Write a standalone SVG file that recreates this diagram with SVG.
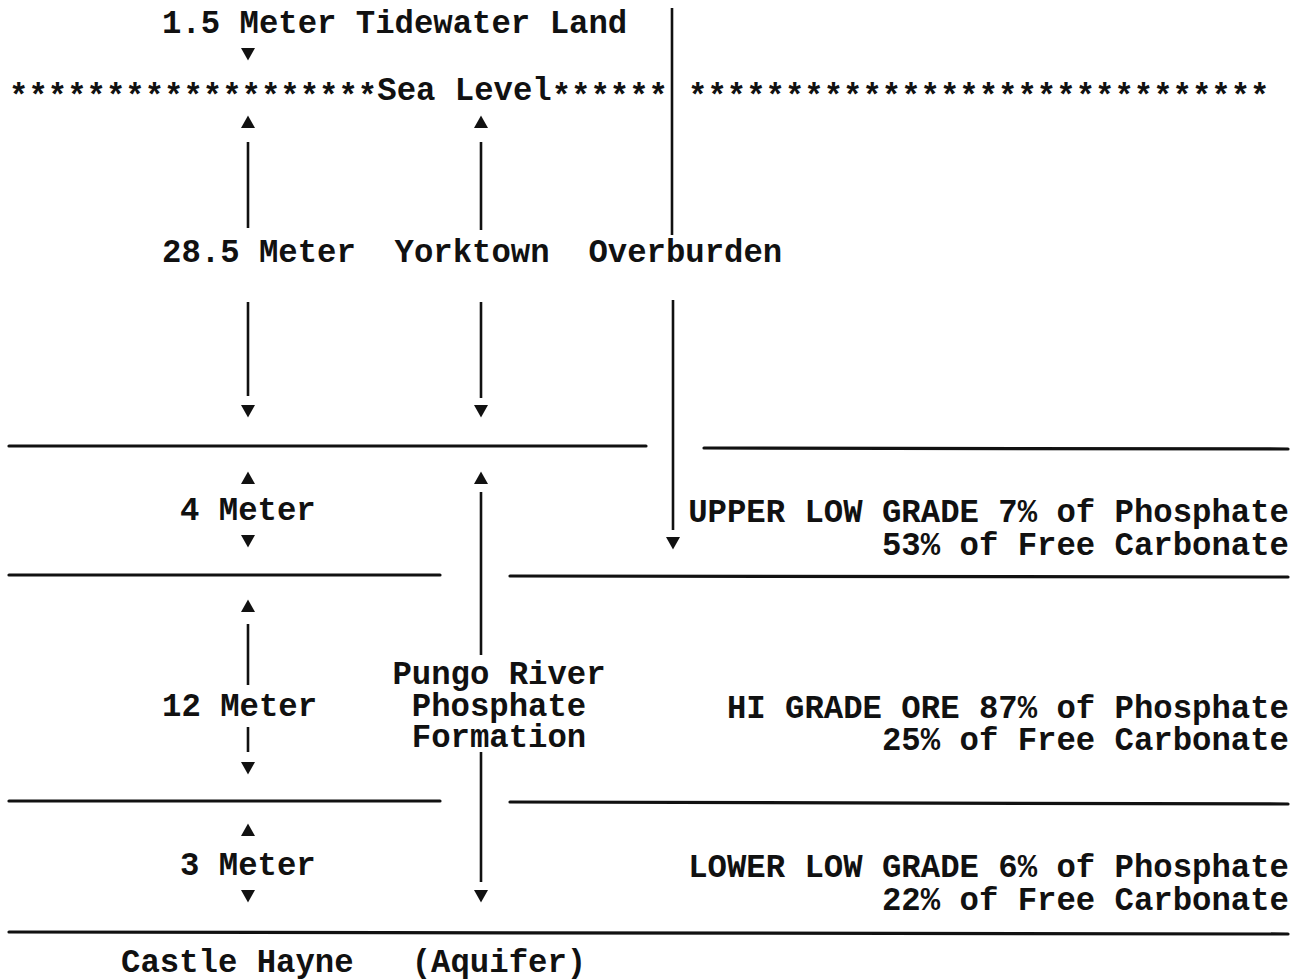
<svg xmlns="http://www.w3.org/2000/svg" xmlns:xlink="http://www.w3.org/1999/xlink" width="1300" height="980" viewBox="0 0 1300 980">
<style>
text{font-family:"Liberation Mono","Courier New",monospace;font-size:32.3px;font-weight:bold;fill:#111}
.r{text-anchor:end}
.m{text-anchor:middle}
.v{stroke:#111;stroke-width:2.6;fill:none}
.h{stroke:#111;stroke-width:3.2;fill:none;stroke-linecap:round}
</style>
<defs>
<path id="dn" d="M-7,-6 L7,-6 L0,6.5 Z" fill="#111"/>
<path id="up" d="M0,-6.5 L7,6 L-7,6 Z" fill="#111"/>
</defs>
<rect width="1300" height="980" fill="#fff"/>

<g id="connectors">
<line class="v" x1="672" y1="8" x2="672" y2="235"/>
<line class="v" x1="248" y1="142" x2="248" y2="228"/>
<line class="v" x1="481" y1="142" x2="481" y2="230"/>
<line class="v" x1="248" y1="302" x2="248" y2="396"/>
<line class="v" x1="481" y1="302" x2="481" y2="398"/>
<line class="v" x1="673" y1="300" x2="673" y2="530"/>
<line class="v" x1="481" y1="492" x2="481" y2="655"/>
<line class="v" x1="481" y1="752" x2="481" y2="882"/>
<line class="v" x1="248" y1="624" x2="248" y2="685"/>
<line class="v" x1="248" y1="727" x2="248" y2="752"/>
<use href="#dn" x="248" y="54"/>
<use href="#up" x="248" y="122"/>
<use href="#up" x="481" y="122"/>
<use href="#dn" x="248" y="411"/>
<use href="#dn" x="481" y="411"/>
<use href="#up" x="248" y="478"/>
<use href="#up" x="481" y="478"/>
<use href="#dn" x="248" y="541"/>
<use href="#dn" x="673" y="543"/>
<use href="#up" x="248" y="606"/>
<use href="#dn" x="248" y="768"/>
<use href="#up" x="248" y="830"/>
<use href="#dn" x="248" y="896"/>
<use href="#dn" x="481" y="896"/>
</g>

<g id="strata">
<line class="h" x1="9" y1="446" x2="646" y2="446"/>
<line class="h" x1="704" y1="448" x2="1288" y2="449"/>
<line class="h" x1="9" y1="575" x2="440" y2="575"/>
<line class="h" x1="510" y1="576" x2="1288" y2="577"/>
<line class="h" x1="9" y1="801" x2="440" y2="801"/>
<line class="h" x1="510" y1="802" x2="1288" y2="804"/>
<line class="h" x1="9" y1="932" x2="1288" y2="934"/>
</g>

<g id="tidewater"><text x="162" y="33">1.5 Meter Tidewater Land</text></g>
<g id="sealevel">
<text x="9" y="100"><tspan dy="6">*******************</tspan><tspan dy="-6">Sea Level</tspan><tspan dy="6">******</tspan></text>
<text x="688" y="106">******************************</text>
</g>
<g id="yorktown"><text x="162" y="262" xml:space="preserve">28.5 Meter  Yorktown  Overburden</text></g>
<g id="upper-low-grade">
<text x="180" y="520">4 Meter</text>
<text class="r" x="1289" y="522">UPPER LOW GRADE 7% of Phosphate</text>
<text class="r" x="1289" y="555">53% of Free Carbonate</text>
</g>
<g id="pungo-river">
<text class="m" x="499" y="684">Pungo River</text>
<text class="m" x="499" y="716">Phosphate</text>
<text class="m" x="499" y="747">Formation</text>
</g>
<g id="hi-grade">
<text x="162" y="716">12 Meter</text>
<text class="r" x="1289" y="718">HI GRADE ORE 87% of Phosphate</text>
<text class="r" x="1289" y="750">25% of Free Carbonate</text>
</g>
<g id="lower-low-grade">
<text x="180" y="875">3 Meter</text>
<text class="r" x="1289" y="877">LOWER LOW GRADE 6% of Phosphate</text>
<text class="r" x="1289" y="910">22% of Free Carbonate</text>
</g>
<g id="castle-hayne"><text x="121" y="972" xml:space="preserve">Castle Hayne   (Aquifer)</text></g>
</svg>
